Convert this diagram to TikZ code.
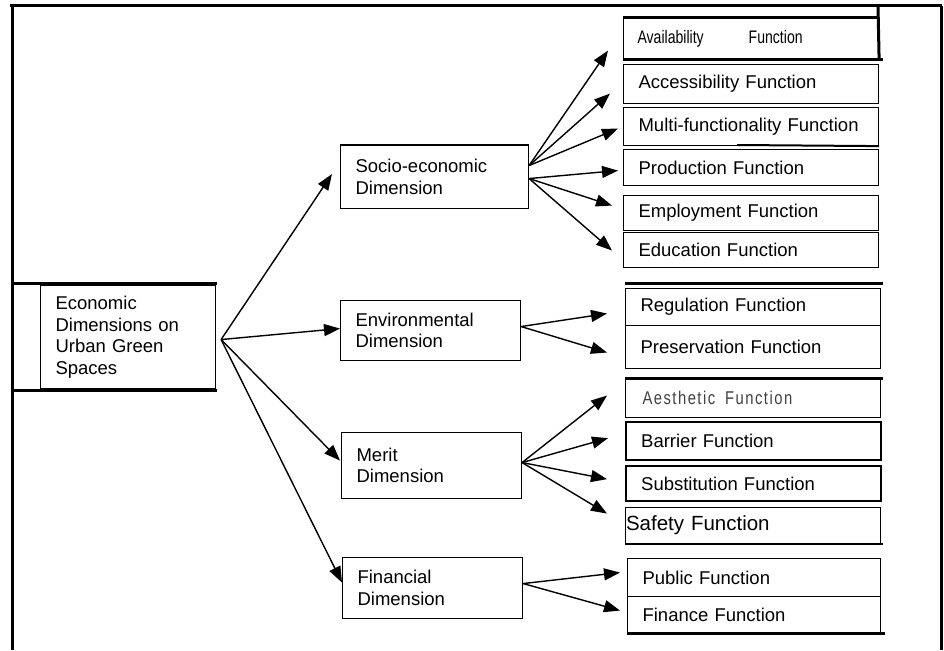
\documentclass[tikz,border=0pt]{standalone}
\usepackage{fontspec}
\usepackage{graphicx}
\setmainfont{Liberation Sans}
\newfontfamily\spacedfont[LetterSpace=10]{Liberation Sans}
\usetikzlibrary{arrows.meta}
\newcommand\narrowtxt[1]{\scalebox{0.76}[0.98]{#1}}
\begin{document}
\begin{tikzpicture}[x=1pt,y=-1pt,
  box/.style={draw, line width=1.1pt, anchor=north west, inner xsep=15pt, inner ysep=0pt,
    align=left, font=\fontsize{18.5}{21.5}\selectfont},
  fbox/.style={box, minimum width=255pt, text width=225pt},
  dbox/.style={box, minimum width=180pt, text width=150pt},
  heavy/.style={line width=2.3pt},
  rule/.style={line width=3pt},
  arr/.style={line width=1.4pt, -{Triangle[length=16pt,width=12pt]}}]
\useasboundingbox (0,0) rectangle (944,650);

% frame
\draw[rule] (10,6) -- (942,6);
\draw[rule] (12,6) -- (12,650);
\draw[rule] (941,6) -- (941,650);

% dimension boxes
\node[box, minimum width=175pt, minimum height=103pt, text width=145pt] (econ) at (40,285)
  {Economic\\Dimensions on\\Urban Green\\Spaces};
\node[box, minimum width=188pt, minimum height=63pt, text width=158pt] (socio) at (340,145)
  {Socio-economic\\Dimension};
\node[dbox, minimum height=60pt] (env) at (340,300) {Environmental\\Dimension};
\node[dbox, minimum height=66pt] (merit) at (341,432) {Merit\\Dimension};
\node[dbox, minimum height=61pt] (fin) at (342,557) {Financial\\Dimension};

% function boxes
\node[fbox, minimum height=40pt] (avail) at (623,18)
  {\hspace*{-1pt}\narrowtxt{Availability}\hspace{45pt}\narrowtxt{Function}};
\node[fbox, minimum height=39pt] (access) at (623,64) {Accessibility Function};
\node[fbox, minimum height=38pt] (multi) at (623,107) {Multi-functionality Function};
\node[fbox, minimum height=36pt] (prod) at (623,149) {Production Function};
\node[fbox, minimum height=35pt] (employ) at (623,195) {Employment Function};
\node[fbox, minimum height=35pt] (educ) at (623,232) {Education Function};
\node[fbox, minimum height=37pt] (reg) at (625,288) {Regulation Function};
\node[fbox, minimum height=43pt] (pres) at (625,325) {Preservation Function};
\node[fbox, minimum height=39pt] (aesth) at (625,378)
  {\hspace*{2pt}{\color{black!75}\spacedfont\fontsize{18.5}{21.5}\selectfont\scalebox{0.8}[1]{Aesthetic\ \ Function}}};
\node[fbox, heavy, minimum height=38pt] (barrier) at (625,421) {Barrier Function};
\node[fbox, heavy, minimum height=35pt] (subst) at (625,465) {Substitution Function};
\node[fbox, minimum height=36pt, inner xsep=0.5pt, text width=254pt,
  font=\fontsize{20.5}{23}\selectfont] (safety) at (625,507) {Safety Function};
\node[fbox, minimum width=253pt, text width=223pt, minimum height=38pt] (public) at (627,558) {Public Function};
\node[fbox, minimum width=253pt, text width=223pt, minimum height=36pt] (finance) at (627,596) {Finance Function};

% heavy rules
\draw[rule] (12,283) -- (217,283);
\draw[rule] (12,390) -- (217,390);
\draw[heavy] (socio.north west) -- (socio.north east);
\draw[rule] (avail.north west) -- (avail.north east);
\draw[rule] (878,6) -- (avail.south east);
\draw[rule] (avail.south west) -- ++(260,0);
\draw[line width=2pt] (737,145) -- (multi.south east);
\draw[rule] (625,283) -- (883,283);
\draw[rule] (aesth.north west) -- ++(258,0);
\draw[line width=2.5pt] (safety.south west) -- ++(258,0);
\draw[rule] (finance.south west) -- ++(258,0);

% connectors from the economic box
\coordinate (esrc) at ([xshift=5pt,yshift=-2.5pt]econ.east);
\draw[arr] (esrc) -- ([xshift=-8pt,yshift=3pt]socio.west);
\draw[arr] (esrc) -- ([yshift=2pt]env.west);
\draw[arr] (esrc) -- ([xshift=-1pt,yshift=5pt]merit.west);
\draw[arr] (esrc) -- ([yshift=5.5pt]fin.west);

% socio-economic
\coordinate (s1) at ([yshift=11.5pt]socio.east);
\coordinate (s2) at ([yshift=-1.5pt]socio.east);
\draw[arr] (s1) -- ([xshift=-15pt,yshift=-12pt]avail.west);
\draw[arr] (s1) -- ([xshift=-13pt,yshift=-9.5pt]access.west);
\draw[arr] (s1) -- ([xshift=-5pt,yshift=-2pt]multi.west);
\draw[arr] (s2) -- ([xshift=-5pt,yshift=-3pt]prod.west);
\draw[arr] (s2) -- ([xshift=-11pt,yshift=7.5pt]employ.west);
\draw[arr] (s2) -- ([xshift=-11pt,yshift=-0.5pt]educ.west);

% environmental
\coordinate (e1) at ([yshift=4pt]env.east);
\draw[arr] (e1) -- ([xshift=-18pt,yshift=-6.5pt]reg.west);
\draw[arr] (e1) -- ([xshift=-18pt,yshift=-5.5pt]pres.west);

% merit
\coordinate (m1) at ([yshift=3pt]merit.east);
\draw[arr] (m1) -- ([xshift=-18pt,yshift=2.5pt]aesth.west);
\draw[arr] (m1) -- ([xshift=-17pt,yshift=3pt]barrier.west);
\draw[arr] (m1) -- ([xshift=-18pt,yshift=4.5pt]subst.west);
\draw[arr] (m1) -- ([xshift=-18pt,yshift=12pt]safety.west);

% financial
\coordinate (f1) at ([yshift=4.5pt]fin.east);
\draw[arr] (f1) -- ([xshift=-7pt,yshift=5pt]public.west);
\draw[arr] (f1) -- ([xshift=-7pt,yshift=4pt]finance.west);
\end{tikzpicture}
\end{document}
